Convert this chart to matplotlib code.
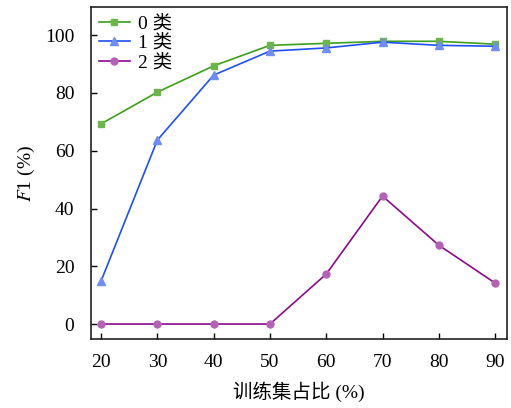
import matplotlib
matplotlib.use("Agg")
import matplotlib.pyplot as plt

plt.rcParams['font.family'] = ['Liberation Serif', 'Noto Sans CJK SC']
plt.rcParams['mathtext.fontset'] = 'stix'

# training-set ratio (%) and F1 per class
ratio = [20, 30, 40, 50, 60, 70, 80, 90]
f1_class0 = [69.3, 80.3, 89.4, 96.5, 97.2, 97.9, 97.9, 96.9]
f1_class1 = [14.9, 63.7, 86.2, 94.5, 95.6, 97.6, 96.5, 96.2]
f1_class2 = [0.0, 0.0, 0.0, 0.0, 17.3, 44.3, 27.3, 14.2]
labels = ["0 类", "1 类", "2 类"]


def main():
    fig = plt.figure(figsize=(5.11, 4.08), dpi=100)
    ax = fig.add_axes([0.178, 0.169, 0.814, 0.814])

    ax.plot(ratio, f1_class0, color="#3c9e1c", lw=1.2, marker="s", ms=5,
            mfc="#6cb54c", mec="#6cb54c", label=labels[0])
    ax.plot(ratio, f1_class1, color="#1f4ff0", lw=1.2, marker="^", ms=5.5,
            mfc="#6f8df2", mec="#6f8df2", label=labels[1])
    ax.plot(ratio, f1_class2, color="#8b0a8b", lw=1.2, marker="o", ms=5,
            mfc="#b463b4", mec="#b463b4", label=labels[2])

    ax.set_xlim(18.2, 92.1)
    ax.set_ylim(-5.2, 109.8)
    ax.set_xticks(ratio)
    ax.set_yticks([0, 20, 40, 60, 80, 100])
    ax.tick_params(direction="in", length=4, width=1, labelsize=14)
    ax.tick_params(axis="x", pad=11)
    ax.tick_params(axis="y", pad=12)
    for s in ax.spines.values():
        s.set_linewidth(1.2)
        s.set_color("#222222")

    ax.set_xlabel("训练集占比 (%)", fontsize=14, labelpad=7)
    ax.set_ylabel(r"$F$1 (%)", fontsize=14, labelpad=6)

    ax.legend(loc="upper left", frameon=False, fontsize=14, handlelength=1.6,
              handletextpad=0.4, labelspacing=0.1, borderaxespad=0.3,
              borderpad=0.1)

    fig.savefig("out.png", dpi=100)


if __name__ == "__main__":
    main()
